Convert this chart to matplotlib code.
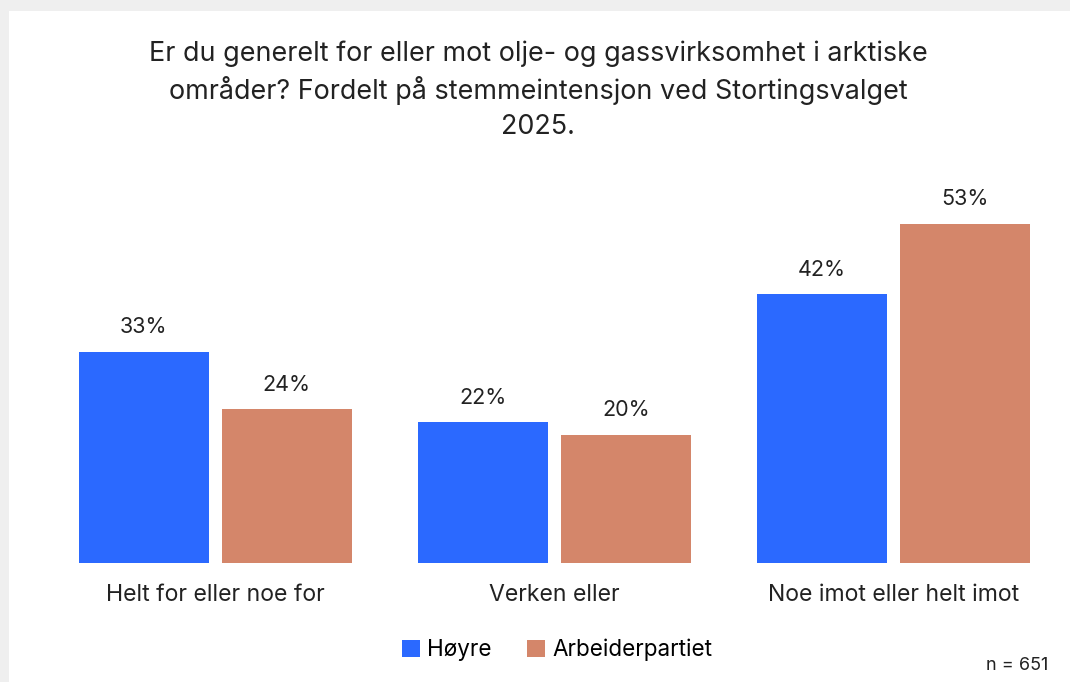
import matplotlib.pyplot as plt
import numpy as np
from matplotlib.patches import Rectangle

plt.rcParams['font.family'] = ['Inter', 'DejaVu Sans']

categories = ['Helt for eller noe for', 'Verken eller', 'Noe imot eller helt imot']
hoyre = [33, 22, 42]
ap = [24, 20, 53]
series_names = ['Høyre', 'Arbeiderpartiet']
title = ('Er du generelt for eller mot olje- og gassvirksomhet i arktiske\n'
         'områder? Fordelt på stemmeintensjon ved Stortingsvalget\n2025.')
note = 'n = 651'

blue = '#2b69ff'
orange = '#d4866a'

W, H = 1070, 682
fig = plt.figure(figsize=(W / 100, H / 100), dpi=100)
fig.patch.set_facecolor('#efefef')
# white card with grey edge on top/left
fig.patches.append(Rectangle((9 / W, 0), 1, 1 - 11 / H, transform=fig.transFigure,
                             facecolor='white', edgecolor='none', zorder=0))

# axes placed so group centres land near 215, 554, 893 px
px_per_unit = 339.3
x0 = 215
ax = fig.add_axes([0, (H - 563) / H, 1, (563 - 150) / H])
ax.set_zorder(2)
ax.set_xlim(-x0 / px_per_unit, (W - x0) / px_per_unit)
ax.set_ylim(0, (563 - 150) / 6.4)
ax.axis('off')

x = np.arange(len(categories))
bw = 130 / px_per_unit
off = 143 / 2 / px_per_unit
b1 = ax.bar(x - off, hoyre, bw, color=blue, label=series_names[0])
b2 = ax.bar(x + off, ap, bw, color=orange, label=series_names[1])

for bars, vals in ((b1, hoyre), (b2, ap)):
    for r, v in zip(bars, vals):
        ax.annotate(f'{v}%', (r.get_x() + r.get_width() / 2, v),
                    xytext=(0, 10.5), textcoords='offset points',
                    ha='center', va='bottom', fontsize=15.5, color='#222222')

for xi, c in zip(x, categories):
    ax.annotate(c, (xi, 0), xytext=(0, -23), textcoords='offset points',
                ha='center', va='center', fontsize=16.6, color='#222222')

fig.text(538 / W, 1 - 90 / H, title, ha='center', va='center', fontsize=19.4,
         color='#222222', linespacing=1.42, zorder=3)

leg = fig.legend(handles=[b1, b2], loc='center', bbox_to_anchor=(557 / W, 1 - 650 / H),
                 ncol=2, frameon=False, fontsize=16.2, handlelength=0.8, handleheight=0.8,
                 handletextpad=0.3, columnspacing=1.6)
leg.set_zorder(3)

fig.text(1048 / W, 1 - 665 / H, note, ha='right', va='center', fontsize=13,
         color='#222222', zorder=3)

fig.savefig('out.png', dpi=100)
